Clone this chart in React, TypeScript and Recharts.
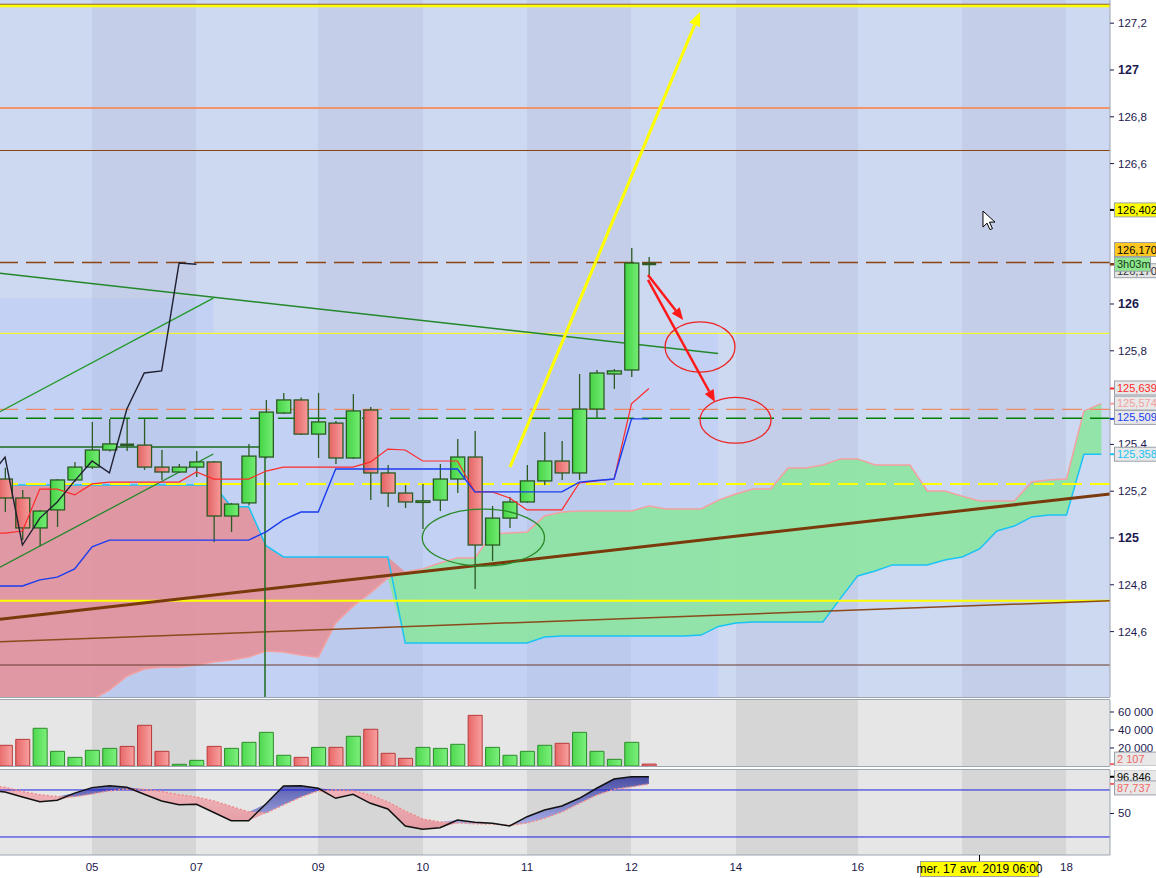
import React from "react";
import {
  ComposedChart,
  Bar,
  Line,
  Area,
  XAxis,
  YAxis,
  CartesianGrid,
  ReferenceLine,
  ReferenceArea,
  ReferenceDot,
  Cell,
} from "recharts";

const FONT = "'Liberation Sans', Arial, sans-serif";
const AXIS = "#1c1a4e";
const FRAME = "#9ca5b2";
const MAIN_LIGHT = "#cdd8f1";
const MAIN_DARK = "#c4cee8";
const SUB_LIGHT = "#e6e6e6";
const SUB_DARK = "#d6d6d6";

// 4h bars, index 0 = first bar on screen
const opens = [125.252, 125.171, 125.043, 125.12, 125.248, 125.303, 125.376, 125.4, 125.397, 125.303, 125.282, 125.303, 125.325, 125.094, 125.15, 125.346, 125.534, 125.59, 125.444, 125.491, 125.342, 125.547, 125.278, 125.192, 125.152, 125.162, 125.252, 125.346, 124.97, 125.085, 125.154, 125.244, 125.329, 125.278, 125.551, 125.701, 125.718, 126.172];
const highs = [125.3, 125.205, 125.12, 125.252, 125.325, 125.496, 125.509, 125.509, 125.509, 125.376, 125.316, 125.372, 125.329, 125.15, 125.402, 125.59, 125.62, 125.6, 125.62, 125.5, 125.615, 125.56, 125.312, 125.226, 125.231, 125.316, 125.423, 125.457, 125.137, 125.175, 125.312, 125.453, 125.415, 125.701, 125.718, 125.722, 126.239, 126.201];
const lows = [125.111, 124.991, 124.966, 125.047, 125.24, 125.295, 125.37, 125.372, 125.291, 125.248, 125.278, 125.261, 124.983, 125.026, 125.14, 125.34, 125.53, 125.44, 125.342, 125.316, 125.338, 125.162, 125.132, 125.128, 125.038, 125.115, 125.192, 124.782, 124.902, 125.043, 125.15, 125.226, 125.248, 125.248, 125.513, 125.637, 125.688, 126.124];
const closes = [125.171, 125.043, 125.115, 125.248, 125.303, 125.376, 125.402, 125.397, 125.303, 125.282, 125.303, 125.325, 125.094, 125.145, 125.35, 125.538, 125.59, 125.444, 125.496, 125.342, 125.543, 125.278, 125.192, 125.154, 125.159, 125.252, 125.346, 124.97, 125.085, 125.154, 125.244, 125.329, 125.278, 125.551, 125.705, 125.714, 126.175, 126.17];
const volumes = [23000, 29600, 41900, 16300, 9600, 17400, 19600, 21800, 45200, 16300, 1900, 6300, 21800, 19600, 26300, 37400, 11900, 9600, 20700, 20700, 33000, 40800, 14100, 8500, 20700, 19600, 24100, 56300, 20700, 11900, 16300, 23000, 25200, 37400, 16300, 7400, 26300, 2107];

// indicator series start one bar before the screen (index -1)
const FIRST = -1;
const tenkan = [125.021, 125.021, 125.03, 125.209, 125.209, 125.184, 125.231, 125.239, 125.239, 125.239, 125.239, 125.239, 125.282, 125.252, 125.252, 125.252, 125.286, 125.303, 125.303, 125.303, 125.303, 125.303, 125.325, 125.38, 125.376, 125.329, 125.329, 125.329, 125.197, 125.197, 125.171, 125.12, 125.12, 125.12, 125.235, 125.244, 125.252, 125.573, 125.639];
const kijun = [124.795, 124.795, 124.795, 124.821, 124.833, 124.868, 124.962, 124.991, 124.991, 124.991, 124.991, 124.991, 124.991, 124.991, 124.991, 124.991, 125.026, 125.077, 125.111, 125.111, 125.295, 125.295, 125.295, 125.295, 125.295, 125.295, 125.295, 125.295, 125.197, 125.197, 125.197, 125.197, 125.197, 125.197, 125.239, 125.246, 125.252, 125.509, 125.509];
// cloud, shifted 26 bars ahead
const spanA = [124.05, 124.1, 124.15, 124.2, 124.25, 124.29, 124.31, 124.35, 124.41, 124.44, 124.449, 124.449, 124.457, 124.47, 124.479, 124.491, 124.517, 124.513, 124.5, 124.491, 124.637, 124.709, 124.765, 124.829, 124.855, 124.868, 124.893, 124.915, 124.915, 125.017, 125.021, 125.026, 125.094, 125.111, 125.115, 125.115, 125.115, 125.115, 125.137, 125.124, 125.124, 125.124, 125.162, 125.188, 125.209, 125.209, 125.299, 125.299, 125.312, 125.338, 125.338, 125.312, 125.312, 125.312, 125.201, 125.201, 125.179, 125.158, 125.158, 125.158, 125.239, 125.248, 125.252, 125.543, 125.574];
const spanB = [125.226, 125.226, 125.226, 125.226, 125.226, 125.226, 125.226, 125.226, 125.226, 125.226, 125.226, 125.226, 125.226, 125.226, 125.134, 125.134, 124.967, 124.919, 124.919, 124.919, 124.919, 124.919, 124.919, 124.919, 124.551, 124.551, 124.551, 124.551, 124.551, 124.551, 124.551, 124.551, 124.577, 124.581, 124.581, 124.581, 124.581, 124.581, 124.581, 124.581, 124.581, 124.585, 124.622, 124.637, 124.641, 124.641, 124.641, 124.641, 124.641, 124.741, 124.838, 124.859, 124.885, 124.885, 124.885, 124.906, 124.919, 124.953, 125.03, 125.051, 125.09, 125.098, 125.098, 125.358, 125.358];

// stochastic, also from index -1
const stochK = [80, 77.4, 71, 65, 67, 76, 83, 85.5, 83.5, 74.5, 66, 61.2, 61.7, 51.3, 40.8, 40.8, 62.5, 85, 85.5, 82.2, 69.4, 74.5, 63, 55.7, 34, 29.8, 31.9, 41.7, 38.8, 37.5, 34, 45.9, 54.5, 59.6, 69.4, 82.2, 94, 96.8, 96.846];
const stochD = [85.5, 83.4, 78, 74, 71.5, 71.5, 75, 79, 81, 81, 78, 74, 71, 66, 59, 52, 50.6, 61, 71, 79, 80, 79, 73.6, 64.7, 53, 43, 39, 38, 37, 36.5, 35, 38, 44, 52, 63, 73.6, 81, 84, 87.737];

const dayTicks = [5, 11, 18, 24, 30, 36, 42, 49, 55, 61];
const dayLabels = ["05", "07", "09", "10", "11", "12", "14", "16", "", "18"];
const priceTicks = [124.6, 124.8, 125, 125.2, 125.4, 125.8, 126, 126.6, 126.8, 127, 127.2];
const volTicks = [20000, 40000, 60000];
const oscTicks = [50];
const oscLevels = [80, 20];
const X_DOMAIN = [-0.29, 63.5];

// drawings (bar index, price)
const zones = [
  { x1: -0.29, x2: 40.98, y1: 124.3205, y2: 125.8748 },
  { x1: -0.29, x2: 11.97, y1: 125.8748, y2: 126.025 },
];
const levels = [
  { y: 127.2808, color: "#8b4513", w: 1, dash: undefined },
  { y: 127.2735, color: "#ffff00", w: 2.5, dash: undefined },
  { y: 126.8376, color: "#ff7f3f", w: 1.5, dash: undefined },
  { y: 126.656, color: "#8b4513", w: 1.2, dash: undefined },
  { y: 126.1774, color: "#8b4513", w: 1.5, dash: "20 8" },
  { y: 125.8748, color: "#ffff00", w: 1, dash: undefined },
  { y: 125.55, color: "#f08a64", w: 1.2, dash: "20 8" },
  { y: 125.5115, color: "#008000", w: 1.5, dash: "20 8" },
  { y: 125.2308, color: "#ffff00", w: 2, dash: "20 8" },
  { y: 124.7321, color: "#ffff00", w: 2, dash: undefined },
  { y: 124.4573, color: "#6b3a30", w: 1.2, dash: undefined },
];
const trendLines = [
  { x1: -0.29, y1: 126.131, x2: 40.98, y2: 125.788, color: "#22882a", w: 1.5 },
  { x1: -0.29, y1: 125.54, x2: 11.97, y2: 126.025, color: "#22992a", w: 1.3 },
  { x1: -0.29, y1: 124.875, x2: 11.97, y2: 125.359, color: "#22882a", w: 1.3 },
  { x1: -0.29, y1: 124.653, x2: 63.5, y2: 125.188, color: "#7a3a0c", w: 3 },
  { x1: -0.29, y1: 124.557, x2: 63.5, y2: 124.732, color: "#8b4a1c", w: 1.5 },
  { x1: -0.29, y1: 125.389, x2: 14.94, y2: 125.389, color: "#1d6b1d", w: 1.5 },
  { x1: 14.94, y1: 125.389, x2: 14.94, y2: 124.3205, color: "#1d6b1d", w: 1.5 },
];
const arrows = [
  { x1: 29.02, y1: 125.303, x2: 39.94, y2: 127.248, color: "#ffff00", w: 3, head: 14 },
  { x1: 36.95, y1: 126.124, x2: 38.97, y2: 125.932, color: "#ff1a1a", w: 2.5, head: 12 },
  { x1: 36.95, y1: 126.103, x2: 40.8, y2: 125.581, color: "#ff1a1a", w: 2.5, head: 12 },
];
const ellipses = [
  { x1: 23.98, x2: 31.0, y1: 124.88, y2: 125.123, color: "#2a8a2a" },
  { x1: 37.93, x2: 41.95, y1: 125.709, y2: 125.924, color: "#ee2222" },
  { x1: 39.94, x2: 44.02, y1: 125.405, y2: 125.601, color: "#ee2222" },
];
const priceTags = [
  { y: 126.402, text: "126,402", bg: "#ffff00", color: "#000000", tick: "#000000", dy: 0, w: 46 },
  { y: 126.17, text: "126,170", bg: "#e4e4e4", color: "#333333", tick: "#333333", dy: 6.5, w: 46 },
  { y: 126.17, text: "3h03m", bg: "#8fe88f", color: "#163816", tick: "#333333", dy: 0, w: 36 },
  { y: 126.17, text: "126,170", bg: "#ffc820", color: "#000000", tick: "#8b4513", dy: -14.7, w: 46 },
  { y: 125.639, text: "125,639", bg: "#e8e8e8", color: "#ff2a2a", tick: "#ff2a2a", dy: -0.5, w: 46 },
  { y: 125.574, text: "125,574", bg: "#e8e8e8", color: "#f4a0a0", tick: "#f4a0a0", dy: -0.5, w: 46 },
  { y: 125.509, text: "125,509", bg: "#e8e8e8", color: "#1a3cf0", tick: "#1a3cf0", dy: -1.5, w: 46 },
  { y: 125.358, text: "125,358", bg: "#e8e8e8", color: "#19c3f5", tick: "#19c3f5", dy: 0, w: 46 },
];
const volTags = [{ y: 2107, text: "2 107", bg: "#e8e8e8", color: "#f06666", tick: "#f06666", dy: -5, w: 46 }];
const oscTags = [
  { y: 96.846, text: "96,846", bg: "#e8e8e8", color: "#000000", tick: "#000000", dy: 0, w: 46 },
  { y: 87.737, text: "87,737", bg: "#e8e8e8", color: "#f06666", tick: "#f06666", dy: 4, w: 46 },
];
const crossX = 56;
const crossText = "mer. 17 avr. 2019 06:00";
const mouse = { x: 56.2, y: 126.397 };

const mainData = spanA.map((a, n) => {
  const i = n + FIRST;
  const b = spanB[n];
  const has = i >= 0 && i < closes.length;
  return {
    i,
    range: has ? [lows[i], highs[i]] : null,
    o: has ? opens[i] : null,
    h: has ? highs[i] : null,
    l: has ? lows[i] : null,
    c: has ? closes[i] : null,
    tenkan: n < tenkan.length ? tenkan[n] : null,
    kijun: n < kijun.length ? kijun[n] : null,
    chikou: i + 26 < closes.length ? closes[i + 26] : null,
    spanA: a,
    spanB: b,
    bear: b > a ? [a, b] : [a, a],
    bull: a >= b ? [b, a] : [a, a],
  };
});

const volData = volumes.map((v, i) => ({ i, vol: v, up: closes[i] >= opens[i] }));

const oscData = stochK.map((k, n) => {
  const d = stochD[n];
  return { i: n + FIRST, k, d, up: k >= d ? [d, k] : [d, d], dn: k < d ? [k, d] : [d, d] };
});

const fmtPrice = (v: number) =>
  Math.abs(v - Math.round(v)) < 1e-6 ? String(Math.round(v)) : v.toFixed(1).replace(".", ",");

const PriceTick = (props: any) => {
  const { x, y, payload } = props;
  const v = payload.value;
  const isInt = Math.abs(v - Math.round(v)) < 1e-6;
  return (
    <text x={x} y={y} dy={4} fill={AXIS} fontSize={isInt ? 12.5 : 11.5} fontWeight={isInt ? 700 : 400} fontFamily={FONT}>
      {fmtPrice(v)}
    </text>
  );
};

const SmallTick = (props: any) => {
  const { x, y, payload, fmt } = props;
  return (
    <text x={x} y={y} dy={4} fill={AXIS} fontSize={11.5} fontFamily={FONT}>
      {fmt(payload.value)}
    </text>
  );
};

const Tag = (props: any) => {
  const { viewBox, text, bg, color, tick, dy, w } = props;
  if (!viewBox) return null;
  const x = viewBox.x + viewBox.width;
  const y0 = viewBox.y;
  const y = y0 + dy;
  return (
    <g>
      <line x1={x} x2={x + 4} y1={y0} y2={y0} stroke={tick} strokeWidth={2} />
      <rect x={x + 4.5} y={y - 7} width={w} height={14} fill={bg} stroke="#9aa0aa" strokeWidth={1} />
      <text x={x + 7} y={y + 4} fontSize={11} fill={color} fontFamily={FONT}>
        {text}
      </text>
    </g>
  );
};

const DateTag = (props: any) => {
  const { viewBox, text } = props;
  if (!viewBox) return null;
  const x = viewBox.x;
  const bottom = viewBox.y + viewBox.height;
  return (
    <g>
      <line x1={x} x2={x} y1={bottom} y2={bottom + 6} stroke="#000" strokeWidth={1} />
      <rect x={x - 59} y={bottom + 6.5} width={118} height={15} fill="#ffff00" stroke="#a0a0a0" />
      <text x={x} y={bottom + 18} textAnchor="middle" fontSize={12} fill="#000" fontFamily={FONT}>
        {text}
      </text>
    </g>
  );
};

const Candle = (props: any) => {
  const { x, y, width, height, payload } = props;
  if (!payload || payload.o == null || x == null) return null;
  const top = Math.min(y, y + height);
  const h = Math.abs(height);
  const span = payload.h - payload.l;
  const k = span > 0 ? h / span : 0;
  const yOf = (v: number) => top + (payload.h - v) * k;
  const cx = x + width / 2;
  const up = payload.c >= payload.o;
  const bTop = yOf(Math.max(payload.o, payload.c));
  const bBot = yOf(Math.min(payload.o, payload.c));
  const edge = "#2b5a22";
  return (
    <g>
      <line x1={cx} x2={cx} y1={top} y2={top + h} stroke={edge} strokeWidth={1.3} />
      {bBot - bTop < 1.5 ? (
        <line x1={x} x2={x + width} y1={(bTop + bBot) / 2} y2={(bTop + bBot) / 2} stroke={edge} strokeWidth={2.5} />
      ) : (
        <rect
          x={x}
          y={bTop}
          width={width}
          height={bBot - bTop}
          fill={up ? "url(#candleUp)" : "url(#candleDown)"}
          stroke={edge}
          strokeWidth={1.3}
        />
      )}
    </g>
  );
};

const arrowShape = (color: string, w: number, head: number) => (p: any) => {
  const { x1, y1, x2, y2 } = p;
  if (x1 == null) return null;
  const ang = Math.atan2(y2 - y1, x2 - x1);
  const hx = x2 - head * Math.cos(ang);
  const hy = y2 - head * Math.sin(ang);
  const nx = -Math.sin(ang) * head * 0.42;
  const ny = Math.cos(ang) * head * 0.42;
  return (
    <g>
      <line x1={x1} y1={y1} x2={hx} y2={hy} stroke={color} strokeWidth={w} />
      <polygon points={`${x2},${y2} ${hx + nx},${hy + ny} ${hx - nx},${hy - ny}`} fill={color} />
    </g>
  );
};

const ellipseShape = (color: string) => (p: any) => (
  <ellipse
    cx={p.x + p.width / 2}
    cy={p.y + p.height / 2}
    rx={Math.abs(p.width) / 2}
    ry={Math.abs(p.height) / 2}
    fill="none"
    stroke={color}
    strokeWidth={1.3}
  />
);

const MouseShape = (p: any) => {
  const { cx, cy } = p;
  if (cx == null) return null;
  return (
    <path
      d={`M${cx},${cy} l0,16 l4,-4 l3,6.5 l2.5,-1 l-3,-6.5 l5.5,0 z`}
      fill="#ffffff"
      stroke="#000000"
      strokeWidth={1}
    />
  );
};

const hline = (top: number) => (
  <div style={{ position: "absolute", left: 0, top, width: 1110, height: 1, background: FRAME }} />
);

export default function App() {
  return (
    <div
      style={{
        position: "absolute",
        left: 0,
        top: 0,
        width: 1156,
        height: 878,
        background: "#ffffff",
        overflow: "hidden",
        fontFamily: FONT,
      }}
    >
      {/* price panel */}
      <div style={{ position: "absolute", left: 0, top: 0 }}>
        <ComposedChart width={1156} height={697} data={mainData} margin={{ top: 0, right: 0, bottom: 0, left: 0 }}>
          <defs>
            <linearGradient id="candleUp" x1="0" y1="0" x2="1" y2="0">
              <stop offset="0%" stopColor="#45d445" />
              <stop offset="100%" stopColor="#74ec74" />
            </linearGradient>
            <linearGradient id="candleDown" x1="0" y1="0" x2="1" y2="0">
              <stop offset="0%" stopColor="#e46464" />
              <stop offset="100%" stopColor="#f79a9a" />
            </linearGradient>
          </defs>
          <CartesianGrid horizontal={false} vertical verticalFill={[MAIN_LIGHT, MAIN_DARK]} fillOpacity={1} stroke="transparent" />
          <XAxis type="number" dataKey="i" domain={X_DOMAIN} ticks={dayTicks} allowDataOverflow hide />
          <YAxis
            orientation="right"
            width={46}
            type="number"
            domain={[124.3205, 127.2991]}
            allowDataOverflow
            ticks={priceTicks}
            interval={0}
            tick={<PriceTick />}
            tickSize={4}
            tickMargin={4}
            tickLine={{ stroke: AXIS }}
            axisLine={{ stroke: FRAME }}
          />
          {zones.map((z, n) => (
            <ReferenceArea key={`z${n}`} x1={z.x1} x2={z.x2} y1={z.y1} y2={z.y2} fill="#a0beff" fillOpacity={0.22} stroke="none" zIndex={50} />
          ))}
          <Area type="linear" dataKey={(d: any) => d.bear} stroke="none" fill="#e0959f" fillOpacity={0.95} dot={false} activeDot={false} isAnimationActive={false} zIndex={100} />
          <Area type="linear" dataKey={(d: any) => d.bull} stroke="none" fill="#8ee4a2" fillOpacity={0.93} dot={false} activeDot={false} isAnimationActive={false} zIndex={100} />
          <Line type="linear" dataKey="spanA" stroke="#f4a0a0" strokeWidth={1.5} dot={false} activeDot={false} isAnimationActive={false} zIndex={110} />
          <Line type="linear" dataKey="spanB" stroke="#19c3f5" strokeWidth={1.5} dot={false} activeDot={false} isAnimationActive={false} zIndex={110} />
          {levels.map((l, n) => (
            <ReferenceLine key={`l${n}`} y={l.y} stroke={l.color} strokeWidth={l.w} strokeDasharray={l.dash} ifOverflow="hidden" zIndex={150} />
          ))}
          {trendLines.map((t, n) => (
            <ReferenceLine
              key={`t${n}`}
              segment={[{ x: t.x1, y: t.y1 }, { x: t.x2, y: t.y2 }]}
              stroke={t.color}
              strokeWidth={t.w}
              ifOverflow="hidden"
              zIndex={160}
            />
          ))}
          <Bar dataKey="range" barSize={14} shape={Candle} activeBar={false} isAnimationActive={false} zIndex={300} />
          <Line type="linear" dataKey="tenkan" stroke="#ff2a2a" strokeWidth={1.2} dot={false} activeDot={false} isAnimationActive={false} zIndex={400} />
          <Line type="linear" dataKey="kijun" stroke="#1a3cf0" strokeWidth={1.4} dot={false} activeDot={false} isAnimationActive={false} zIndex={400} />
          <Line type="linear" dataKey="chikou" stroke="#202030" strokeWidth={1.4} dot={false} activeDot={false} isAnimationActive={false} zIndex={400} />
          {ellipses.map((e, n) => (
            <ReferenceArea key={`e${n}`} x1={e.x1} x2={e.x2} y1={e.y1} y2={e.y2} shape={ellipseShape(e.color)} ifOverflow="visible" zIndex={450} />
          ))}
          {arrows.map((a, n) => (
            <ReferenceLine
              key={`a${n}`}
              segment={[{ x: a.x1, y: a.y1 }, { x: a.x2, y: a.y2 }]}
              stroke={a.color}
              shape={arrowShape(a.color, a.w, a.head)}
              ifOverflow="visible"
              zIndex={450}
            />
          ))}
          <ReferenceDot x={mouse.x} y={mouse.y} r={1} shape={MouseShape} ifOverflow="visible" zIndex={460} />
          {priceTags.map((t, n) => (
            <ReferenceLine key={`p${n}`} y={t.y} stroke="none" ifOverflow="visible" zIndex={2100} label={<Tag {...t} />} />
          ))}
        </ComposedChart>
      </div>
      {hline(697)}
      {hline(699)}

      {/* volume panel */}
      <div style={{ position: "absolute", left: 0, top: 700 }}>
        <ComposedChart width={1156} height={66} data={volData} margin={{ top: 0, right: 0, bottom: 0, left: 0 }}>
          <defs>
            <linearGradient id="volUp" x1="0" y1="0" x2="1" y2="0">
              <stop offset="0%" stopColor="#4fd84f" />
              <stop offset="100%" stopColor="#7cf07c" />
            </linearGradient>
            <linearGradient id="volDown" x1="0" y1="0" x2="1" y2="0">
              <stop offset="0%" stopColor="#e86868" />
              <stop offset="100%" stopColor="#f8a0a0" />
            </linearGradient>
          </defs>
          <CartesianGrid horizontal={false} vertical verticalFill={[SUB_LIGHT, SUB_DARK]} fillOpacity={1} stroke="transparent" />
          <XAxis type="number" dataKey="i" domain={X_DOMAIN} ticks={dayTicks} allowDataOverflow hide />
          <YAxis
            orientation="right"
            width={46}
            domain={[0, 73333]}
            allowDataOverflow
            ticks={volTicks}
            interval={0}
            tick={<SmallTick fmt={(v: number) => `${v / 1000} 000`} />}
            tickSize={4}
            tickMargin={4}
            tickLine={{ stroke: AXIS }}
            axisLine={{ stroke: FRAME }}
          />
          <Bar dataKey="vol" barSize={14} activeBar={false} isAnimationActive={false}>
            {volData.map((d) => (
              <Cell
                key={d.i}
                fill={d.up ? "url(#volUp)" : "url(#volDown)"}
                stroke={d.up ? "#2c8c2c" : "#b83a3a"}
                strokeWidth={1}
              />
            ))}
          </Bar>
          {volTags.map((t, n) => (
            <ReferenceLine key={`v${n}`} y={t.y} stroke="none" ifOverflow="visible" zIndex={2100} label={<Tag {...t} />} />
          ))}
        </ComposedChart>
      </div>
      {hline(766)}
      {hline(769)}

      {/* stochastic panel */}
      <div style={{ position: "absolute", left: 0, top: 770 }}>
        <ComposedChart width={1156} height={108} data={oscData} margin={{ top: 0, right: 0, bottom: 0, left: 0 }}>
          <defs>
            <linearGradient id="oscUp" x1="0" y1="0" x2="0" y2="1">
              <stop offset="0%" stopColor="#4a4ea4" />
              <stop offset="100%" stopColor="#a9aee6" />
            </linearGradient>
            <linearGradient id="oscDn" x1="0" y1="0" x2="0" y2="1">
              <stop offset="0%" stopColor="#f2b8bc" />
              <stop offset="100%" stopColor="#e39aa2" />
            </linearGradient>
          </defs>
          <CartesianGrid horizontal={false} vertical verticalFill={[SUB_LIGHT, SUB_DARK]} fillOpacity={1} stroke="transparent" />
          <XAxis
            type="number"
            dataKey="i"
            domain={X_DOMAIN}
            ticks={dayTicks}
            interval={0}
            allowDataOverflow
            height={23}
            tickFormatter={(v: number) => dayLabels[dayTicks.indexOf(v)] ?? ""}
            tick={{ fontSize: 11.5, fill: AXIS, fontFamily: FONT }}
            tickLine={false}
            axisLine={{ stroke: FRAME }}
          />
          <YAxis
            orientation="right"
            width={46}
            domain={[-3, 105.5]}
            allowDataOverflow
            ticks={oscTicks}
            interval={0}
            tick={<SmallTick fmt={(v: number) => String(v)} />}
            tickSize={4}
            tickMargin={4}
            tickLine={{ stroke: AXIS }}
            axisLine={{ stroke: FRAME }}
          />
          <Area type="linear" dataKey={(d: any) => d.up} stroke="none" fill="url(#oscUp)" fillOpacity={1} dot={false} activeDot={false} isAnimationActive={false} />
          <Area type="linear" dataKey={(d: any) => d.dn} stroke="none" fill="url(#oscDn)" fillOpacity={1} dot={false} activeDot={false} isAnimationActive={false} />
          {oscLevels.map((v) => (
            <ReferenceLine key={`o${v}`} y={v} stroke="#1e1ee0" strokeWidth={1} zIndex={150} />
          ))}
          <Line type="linear" dataKey="d" stroke="#f08a8a" strokeWidth={1.5} strokeDasharray="2 2" dot={false} activeDot={false} isAnimationActive={false} />
          <Line type="linear" dataKey="k" stroke="#111111" strokeWidth={1.5} dot={false} activeDot={false} isAnimationActive={false} />
          {oscTags.map((t, n) => (
            <ReferenceLine key={`s${n}`} y={t.y} stroke="none" ifOverflow="visible" zIndex={2100} label={<Tag {...t} />} />
          ))}
          <ReferenceLine x={crossX} stroke="none" ifOverflow="visible" zIndex={2100} label={<DateTag text={crossText} />} />
        </ComposedChart>
      </div>
    </div>
  );
}
